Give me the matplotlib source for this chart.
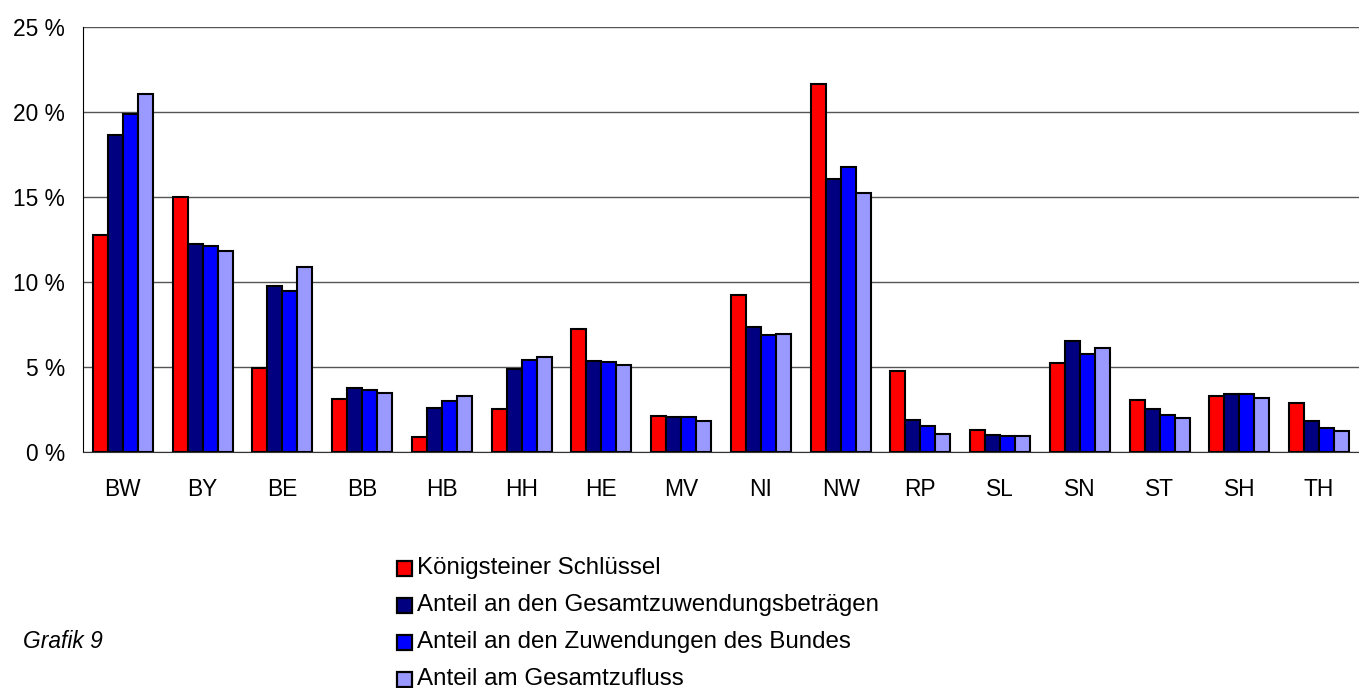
import numpy as np
import matplotlib
matplotlib.use("Agg")
import matplotlib.pyplot as plt
from matplotlib.patches import Rectangle

plt.rcParams['font.family'] = ['Liberation Sans', 'DejaVu Sans']

laender = ["BW", "BY", "BE", "BB", "HB", "HH", "HE", "MV",
           "NI", "NW", "RP", "SL", "SN", "ST", "SH", "TH"]

# Anteile in %
koenigstein = [12.75, 15.0, 4.94, 3.1, 0.88, 2.53, 7.22, 2.12,
               9.22, 21.63, 4.75, 1.28, 5.26, 3.04, 3.28, 2.88]
gesamtzuwendung = [18.67, 12.26, 9.77, 3.77, 2.61, 4.9, 5.37, 2.06,
                   7.35, 16.08, 1.86, 1.02, 6.51, 2.55, 3.43, 1.8]
bund = [19.9, 12.12, 9.47, 3.63, 3.02, 5.43, 5.32, 2.06,
        6.9, 16.77, 1.53, 0.92, 5.79, 2.16, 3.43, 1.43]
gesamtzufluss = [21.04, 11.8, 10.88, 3.49, 3.28, 5.61, 5.12, 1.82,
                 6.96, 15.24, 1.04, 0.94, 6.14, 2.0, 3.2, 1.24]

serien = ["Königsteiner Schlüssel", "Anteil an den Gesamtzuwendungsbeträgen",
          "Anteil an den Zuwendungen des Bundes", "Anteil am Gesamtzufluss"]
farben = ["#FF0000", "#000080", "#0000FF", "#9999FF"]

W, H = 1359, 688
fig = plt.figure(figsize=(W / 100, H / 100), dpi=100)
ax = fig.add_axes([83 / W, 1 - 452 / H, 1 - 83 / W, 425 / H])

x = np.arange(len(laender))
breite = 0.1875
daten = [koenigstein, gesamtzuwendung, bund, gesamtzufluss]
for i, (werte, farbe) in enumerate(zip(daten, farben)):
    ax.bar(x + (i - 1.5) * breite, werte, breite, color=farbe,
           edgecolor="black", linewidth=1.5, zorder=3)

ax.set_xlim(-0.5, len(laender) - 0.5)
ax.set_ylim(0, 25)
ax.set_yticks(range(0, 26, 5))
ax.set_yticklabels([f"{v} %" for v in range(0, 26, 5)])
ax.set_xticks(x)
ax.set_xticklabels(laender)
ax.tick_params(axis="both", length=0, labelsize=16.4)
ax.tick_params(axis="y", pad=13)
ax.tick_params(axis="x", pad=19)
ax.yaxis.grid(True, color="#555555", linewidth=1, zorder=0)
ax.spines["top"].set_visible(False)
ax.spines["right"].set_visible(False)
ax.spines["left"].set_color("black")
ax.spines["bottom"].set_color("#333333")

# Legende von Hand
for i, (name, farbe) in enumerate(zip(serien, farben)):
    yc = 568 + 37 * i
    fig.patches.append(Rectangle((397 / W, 1 - (yc + 8) / H), 15 / W, 15 / H,
                                 facecolor=farbe, edgecolor="black", linewidth=1.6,
                                 transform=fig.transFigure, figure=fig))
    fig.text(417 / W, 1 - yc / H, name, fontsize=17.4, va="center")

fig.text(103 / W, 1 - 642 / H, "Grafik 9", fontsize=16.4, style="italic",
         va="center", ha="right")

fig.savefig("out.png", dpi=100)
